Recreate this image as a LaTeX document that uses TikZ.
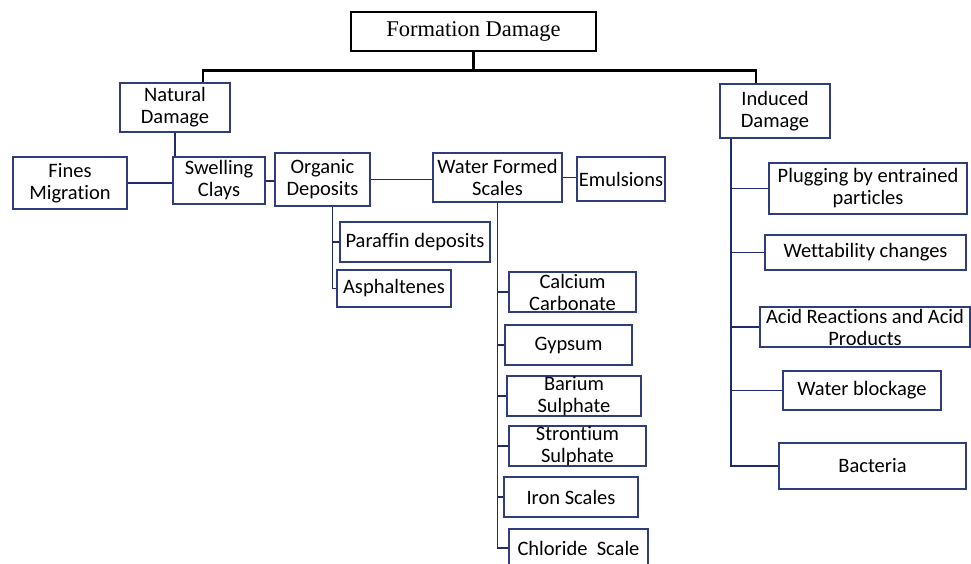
\documentclass[tikz,border=0pt]{standalone}
\usepackage{fontspec}
\setmainfont{Carlito}[Ligatures=NoCommon]
\newfontfamily\titlefont{Liberation Serif}
\usetikzlibrary{positioning}
\definecolor{navy}{RGB}{47,60,125}
\definecolor{linknavy}{RGB}{32,42,110}
\begin{document}
\begin{tikzpicture}[
  x=1pt, y=-1pt,
  box/.style={rectangle, draw=navy, line width=1.2pt, align=center, inner xsep=1pt, inner ysep=-2pt, font=\fontsize{20.5}{22}\selectfont},
  topbox/.style={rectangle, draw=black, line width=2.6pt, font=\titlefont\fontsize{22.5}{24}\selectfont},
  tree/.style={draw=black, line width=2.8pt},
  link/.style={draw=linknavy, line width=1.1pt}
]
\useasboundingbox (0,0) rectangle (971,563);
\node[topbox, minimum width=245, minimum height=39] (fd) at (473.5,31.5) {Formation Damage};
\node[box, minimum width=110, minimum height=49] (nat) at (175,107.5) {Natural\\Damage};
\node[box, minimum width=110, minimum height=54] (ind) at (775,111) {Induced\\Damage};

\node[box, minimum width=114, minimum height=52] (fm) at (70,183) {Fines\\Migration};
\node[box, minimum width=92, minimum height=47] (sw) at (219,180.5) {Swelling\\Clays};
\node[box, minimum width=95, minimum height=53] (od) at (322.5,179.5) {Organic\\Deposits};
\node[box, minimum width=129, minimum height=49] (wfs) at (497.5,177.5) {Water Formed\\Scales};
\node[box, minimum width=88, minimum height=44] (em) at (621,179) {Emulsions};

\node[box, minimum width=150, minimum height=40] (par) at (415,242) {Paraffin deposits};
\node[box, minimum width=114, minimum height=37] (asp) at (394,288.5) {Asphaltenes};

\node[box, minimum width=127, minimum height=40] (cc) at (572.5,292) {Calcium\\Carbonate};
\node[box, minimum width=127, minimum height=40] (gyp) at (568.5,345) {Gypsum};
\node[box, minimum width=134, minimum height=40] (ba) at (574,396) {Barium\\Sulphate};
\node[box, minimum width=137, minimum height=40] (sr) at (577.5,446) {Strontium\\Sulphate};
\node[box, minimum width=134, minimum height=40] (fe) at (571,497) {Iron Scales};
\node[box, minimum width=139, minimum height=38] (cl) at (578.5,548) {Chloride~ Scale};

\node[box, minimum width=198, minimum height=51] (plug) at (868,188.5) {Plugging by entrained\\particles};
\node[box, minimum width=201, minimum height=35] (wet) at (865.5,252.5) {Wettability changes};
\node[box, minimum width=210, minimum height=40] (acid) at (865,327) {Acid Reactions and Acid\\Products};
\node[box, minimum width=158, minimum height=39] (wat) at (862,390.5) {Water blockage};
\node[box, minimum width=187, minimum height=46] (bac) at (872.5,466) {Bacteria};

\draw[tree] (fd.south) -- ++(0,18) coordinate (bar);
\draw[tree] ([xshift=28]nat.north) |- (bar) -| ([xshift=-19]ind.north);

\draw[link] (nat.south) -- (nat.south |- sw.north);
\draw[link] (fm.east) -- (fm.east -| sw.west);
\draw[link, line width=2pt] (sw.east) -- (sw.east -| od.west);
\draw[link, line width=1.6pt] (od.east) -- (od.east -| wfs.west);
\draw[link] (wfs.east) -- (wfs.east -| em.west);

\foreach \n in {par,asp}
  \draw[link] ([xshift=10]od.south) |- (\n.west);
\foreach \n in {cc,gyp,ba,sr,fe,cl}
  \draw[link] (wfs.south) |- (\n.west);
\foreach \n in {plug,wet,acid,wat,bac}
  \draw[link] ([xshift=-44]ind.south) |- (\n.west);
\end{tikzpicture}
\end{document}
